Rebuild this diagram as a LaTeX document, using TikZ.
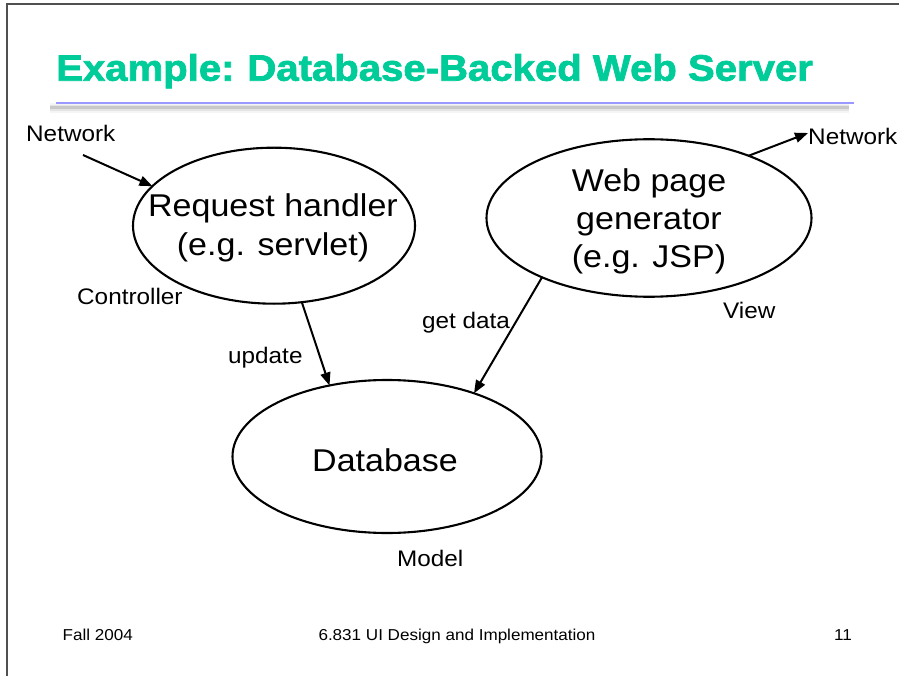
\documentclass[tikz,border=0pt]{standalone}
\usepackage{fontspec}
\setmainfont[FakeStretch=1.08]{Liberation Sans}
\newfontfamily\titlefont[FakeStretch=1.09,BoldFeatures={FakeBold=2}]{Liberation Sans}
\usetikzlibrary{shapes.geometric,arrows.meta}
\definecolor{titlegreen}{RGB}{0,204,153}
\definecolor{rulebl}{RGB}{153,153,255}
\definecolor{framegray}{RGB}{80,80,80}
\tikzset{
  blob/.style={draw, ellipse, line width=2.1pt, inner sep=0pt, outer sep=0pt},
  big/.style={font=\fontsize{31.5}{38}\selectfont, inner sep=0pt, anchor=base},
  small/.style={font=\fontsize{22.5}{27}\selectfont, inner sep=0pt, anchor=base west},
  foot/.style={font=\fontsize{15.8}{19}\selectfont, inner sep=0pt, anchor=base},
  flow/.style={line width=2pt, -{Triangle[length=13pt,width=10pt]}},
}
\begin{document}
\begin{tikzpicture}[x=1pt,y=-1pt]
\useasboundingbox (0,0) rectangle (899,676);
% slide frame
\draw[framegray, line width=1.5pt] (7,676) -- (7,4) -- (899,4);
% title and its rule
\node[anchor=base west, inner sep=0pt, text=titlegreen,
      font=\titlefont\bfseries\fontsize{36.8}{40}\selectfont] (title) at (56,80.7)
      {Example:\hspace{-2pt} Database-Backed Web Server};
\draw[black, opacity=0.04, line width=10pt] (50,108) -- (849,108);
\draw[black, opacity=0.07, line width=6pt] (50,108) -- (849,108);
\draw[black, opacity=0.12, line width=3pt] (50,108) -- (849,108);
\draw[rulebl, line width=1.5pt] (56,103) -- (854,103);
% components
\node[blob, minimum width=282pt, minimum height=156pt] (req) at (274,225.7) {};
\node[blob, minimum width=325pt, minimum height=157.5pt] (gen) at (649,218) {};
\node[blob, minimum width=309pt, minimum height=153pt] (db) at (387,456.5) {};
\node[big] (reqA) at (273,217) {Request handler};
\node[big] (reqB) at (273,255) {(e.g. servlet)};
\node[big] (genA) at (649,191.7) {Web page};
\node[big] (genB) at (649,229.5) {generator};
\node[big] (genC) at (649,267.7) {(e.g. JSP)};
\node[big] (dbA) at (385,471.7) {Database};
% labels
\node[small] (netin) at (26,142) {Network};
\node[small] (netout) at (808,145) {Network};
\node[small] (ctrl) at (77,304) {Controller};
\node[small] (upd) at (228,363) {update};
\node[small] (get) at (422,328) {get data};
\node[small] (view) at (723,318) {View};
\node[small] (model) at (397,566) {Model};
% connectors
\coordinate (netinTail) at (83,155);
\coordinate (netoutTip) at (808,133);
\draw[flow] (netinTail) -- (req.162);
\draw[flow] (gen.32) -- (netoutTip);
\draw[flow] (req.-70) -- (db.129);
\draw[flow] (gen.209) -- (db.36);
% footer
\node[foot, anchor=base west] (fall) at (62.5,640.5) {Fall 2004};
\node[foot] (course) at (457,640.5) {6.831 UI Design and Implementation};
\node[foot] (page) at (843,640.5) {11};
\end{tikzpicture}
\end{document}
